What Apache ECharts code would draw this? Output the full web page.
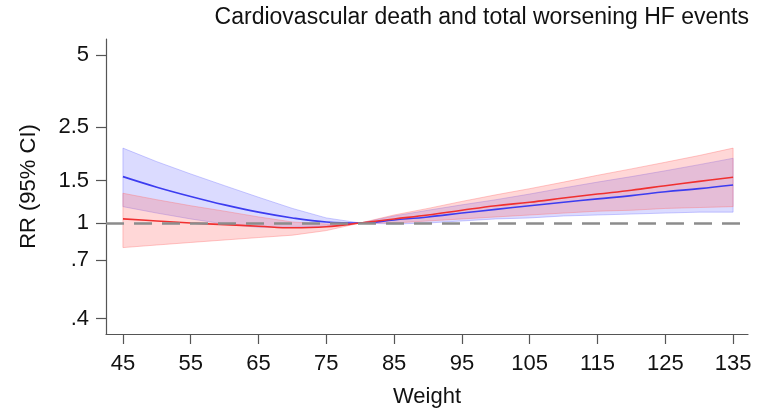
<!DOCTYPE html>
<html>
<head>
<meta charset="utf-8">
<script src="https://cdn.jsdelivr.net/npm/echarts@6/dist/echarts.min.js"></script>
<style>
html,body{margin:0;padding:0;background:#fff;}
#chart{width:757px;height:415px;}
</style>
</head>
<body>
<div id="chart"></div>
<script>
// ---- Data ----
const weights = [45,50,55,60,65,70,75,80,85,90,95,100,105,110,115,120,125,130,135];

const blueRR = [1.56,1.41,1.29,1.19,1.11,1.05,1.01,1.00,1.03,1.06,1.10,1.14,1.18,1.22,1.26,1.30,1.35,1.39,1.44];
const blueHi = [2.05,1.80,1.60,1.43,1.28,1.15,1.05,1.00,1.07,1.13,1.19,1.25,1.32,1.40,1.48,1.56,1.65,1.75,1.86];
const blueLo = [1.17,1.10,1.04,0.99,0.96,0.96,0.97,1.00,0.99,1.00,1.02,1.04,1.05,1.07,1.08,1.09,1.10,1.11,1.11];

const redRR  = [1.04,1.02,1.00,0.985,0.97,0.955,0.965,1.00,1.04,1.08,1.13,1.18,1.22,1.27,1.32,1.37,1.43,1.49,1.55];
const redHi  = [1.33,1.25,1.18,1.12,1.06,1.01,0.99,1.00,1.08,1.15,1.23,1.31,1.39,1.48,1.58,1.68,1.79,1.91,2.05];
const redLo  = [0.79,0.81,0.83,0.85,0.87,0.89,0.93,1.00,1.00,1.02,1.04,1.06,1.08,1.10,1.12,1.13,1.15,1.16,1.17];

const yTickValues = [0.4,0.7,1,1.5,2.5,5];
const yTickLabels = ['.4','.7','1','1.5','2.5','5'];
const xTickValues = [45,55,65,75,85,95,105,115,125,135];
const refValue = 1;

const titleText = 'Cardiovascular death and total worsening HF events';
const xName = 'Weight';
const yName = 'RR (95% CI)';

// ---- Build ----
const lg = v => Math.log10(v);
const pts = arr => weights.map((w,i)=>[w, lg(arr[i])]);

const FONT = 'Liberation Sans, Arial, sans-serif';
const chart = echarts.init(document.getElementById('chart'), null, {renderer:'canvas'});

// confidence band as a polygon drawn through the axes' scales
function band(name, hi, lo, fill, edge) {
  const rows = weights.map((w,i)=>[w, lg(lo[i]), lg(hi[i])]);
  return {
    name, type:'custom', silent:true,
    data: rows,
    encode:{x:0, y:[1,2]},
    renderItem:(params, api)=>{
      if (params.dataIndex !== 0) return null;
      const upper = rows.map(r=>api.coord([r[0], r[2]]));
      const lower = rows.map(r=>api.coord([r[0], r[1]])).reverse();
      return {
        type:'polygon',
        shape:{points: upper.concat(lower)},
        style:{fill, stroke:edge, lineWidth:1, lineJoin:'round'}
      };
    }
  };
}

const option = {
  animation:false,
  backgroundColor:'#fff',
  textStyle:{fontFamily:FONT},
  title:{
    text:titleText, right:3, top:1,
    textStyle:{fontFamily:FONT, fontSize:23, fontWeight:'normal', color:'#111'}
  },
  grid:{left:106, right:9, top:39, bottom:81},
  xAxis:{
    type:'value', min:42.5, max:137.2,
    name:xName, nameLocation:'middle', nameGap:52,
    nameTextStyle:{fontFamily:FONT, fontSize:22, color:'#111'},
    axisLine:{onZero:false, lineStyle:{color:'#555', width:1.2}},
    axisTick:{show:true, length:10, lineStyle:{color:'#555', width:1.2}, customValues:xTickValues},
    axisLabel:{fontFamily:FONT, fontSize:22, color:'#111', margin:19, customValues:xTickValues},
    splitLine:{show:false}
  },
  yAxis:{
    type:'value', min:-0.462, max:0.766,
    name:yName, nameLocation:'middle', nameGap:66, nameRotate:90,
    nameTextStyle:{fontFamily:FONT, fontSize:22, color:'#111'},
    axisLine:{show:true, onZero:false, lineStyle:{color:'#555', width:1.2}},
    axisTick:{show:true, length:10, lineStyle:{color:'#555', width:1.2}, customValues:yTickValues.map(lg)},
    axisLabel:{
      fontFamily:FONT, fontSize:22, color:'#111', margin:17,
      customValues:yTickValues.map(lg),
      formatter:(v)=>{
        let best=0, bd=1e9;
        yTickValues.forEach((t,i)=>{const d=Math.abs(lg(t)-v); if(d<bd){bd=d;best=i;}});
        return yTickLabels[best];
      }
    },
    splitLine:{show:false}
  },
  series:[
    {
      name:'ref', type:'line', data:[], silent:true, z:1,
      markLine:{
        silent:true, symbol:'none', label:{show:false},
        lineStyle:{color:'#8c8c8c', width:2.5, type:[18,10]},
        data:[{yAxis: lg(refValue)}]
      }
    },
    band('blueCI', blueHi, blueLo, 'rgba(110,110,255,0.25)', 'rgba(110,110,255,0.35)'),
    band('redCI', redHi, redLo, 'rgba(255,110,110,0.28)', 'rgba(255,110,110,0.38)'),
    {
      name:'blue', type:'line', data: pts(blueRR), smooth:0.4, symbol:'none',
      lineStyle:{color:'#3c3cf0', width:1.6}
    },
    {
      name:'red', type:'line', data: pts(redRR), smooth:0.4, symbol:'none',
      lineStyle:{color:'#f03030', width:1.6}
    }
  ]
};
chart.setOption(option);
</script>
</body>
</html>
